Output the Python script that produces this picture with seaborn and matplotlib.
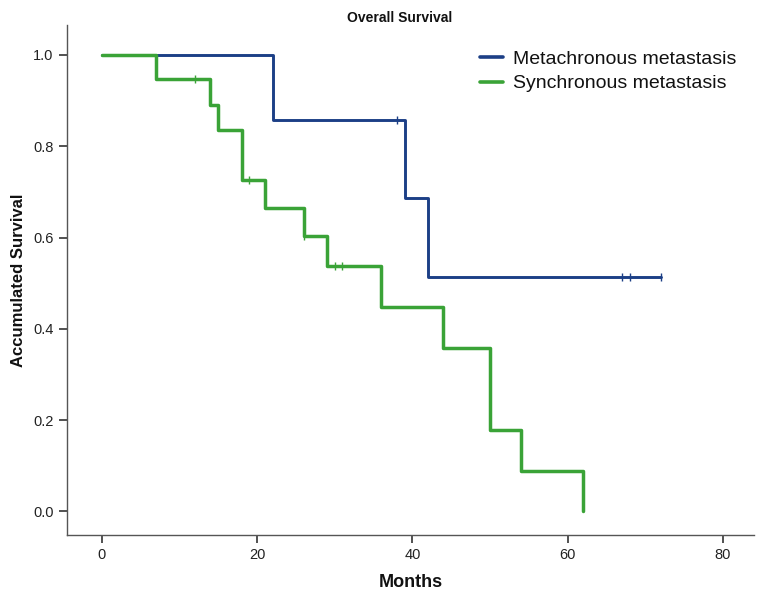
import numpy as np
import pandas as pd
import matplotlib
matplotlib.use("Agg")
import matplotlib.pyplot as plt
import seaborn as sns
from matplotlib.lines import Line2D

sns.set_style("white")
plt.rcParams['font.family'] = ['Liberation Sans', 'DejaVu Sans']

# Kaplan-Meier step values
meta_time = [0, 22, 39, 42, 72]
meta_surv = [1.0, 0.857, 0.686, 0.514, 0.514]
meta_cens_time = [38, 67, 68, 72]
meta_cens_surv = [0.857, 0.514, 0.514, 0.514]

sync_time = [0, 7, 14, 15, 18, 21, 26, 29, 36, 44, 50, 54, 62]
sync_surv = [1.0, 0.947, 0.891, 0.836, 0.725, 0.664, 0.604, 0.537,
             0.447, 0.358, 0.179, 0.089, 0.0]
sync_cens_time = [12, 19, 26, 30, 31]
sync_cens_surv = [0.947, 0.725, 0.604, 0.537, 0.537]

groups = ['Metachronous metastasis', 'Synchronous metastasis']
colors = {'Metachronous metastasis': '#1c3f86', 'Synchronous metastasis': '#3aa337'}
widths = {'Metachronous metastasis': 2.1, 'Synchronous metastasis': 2.5}

curves = pd.concat([
    pd.DataFrame({'time': meta_time, 'surv': meta_surv, 'group': groups[0]}),
    pd.DataFrame({'time': sync_time, 'surv': sync_surv, 'group': groups[1]}),
])
cens = pd.concat([
    pd.DataFrame({'time': meta_cens_time, 'surv': meta_cens_surv, 'group': groups[0]}),
    pd.DataFrame({'time': sync_cens_time, 'surv': sync_cens_surv, 'group': groups[1]}),
])

fig = plt.figure(figsize=(7.6, 6), dpi=100)
ax = fig.add_axes([0.088, 0.108, 0.904, 0.85])

for g in groups:
    sns.lineplot(data=curves[curves.group == g], x='time', y='surv', ax=ax,
                 color=colors[g], linewidth=widths[g], drawstyle='steps-post',
                 estimator=None, sort=False)
    sns.scatterplot(data=cens[cens.group == g], x='time', y='surv', ax=ax,
                    color=colors[g], marker='|', s=40, linewidth=1.0)

ax.set_xlim(-4.5, 84)
ax.set_ylim(-0.052, 1.065)
ax.set_xticks([0, 20, 40, 60, 80])
ax.set_yticks([0.0, 0.2, 0.4, 0.6, 0.8, 1.0])
ax.set_yticklabels(['0.0', '0.2', '0.4', '0.6', '0.8', '1.0'])

for s in ['top', 'right']:
    ax.spines[s].set_visible(False)
for s in ['left', 'bottom']:
    ax.spines[s].set_color('#555555')
    ax.spines[s].set_linewidth(1.0)
ax.tick_params(axis='both', direction='out', length=6, width=1.2,
               color='#333333', labelsize=10.5, labelcolor='#222222',
               bottom=True, left=True)

ax.set_xlabel('Months', fontsize=13, fontweight='bold', labelpad=8,
              color='#111111')
ax.set_ylabel('Accumulated Survival', fontsize=12, fontweight='bold',
              labelpad=5, color='#111111')
ax.set_title('Overall Survival', fontsize=10, fontweight='bold', pad=2,
             x=0.485, color='#111111')

handles = [Line2D([0], [0], color=colors[g], linewidth=2.6) for g in groups]
leg = ax.legend(handles, groups, loc='upper right', frameon=False, fontsize=14,
                handlelength=1.2, handletextpad=0.5, labelspacing=0.35,
                bbox_to_anchor=(1.0, 0.985))
for t in leg.get_texts():
    t.set_color('#111111')

fig.savefig('out.png', dpi=100)
